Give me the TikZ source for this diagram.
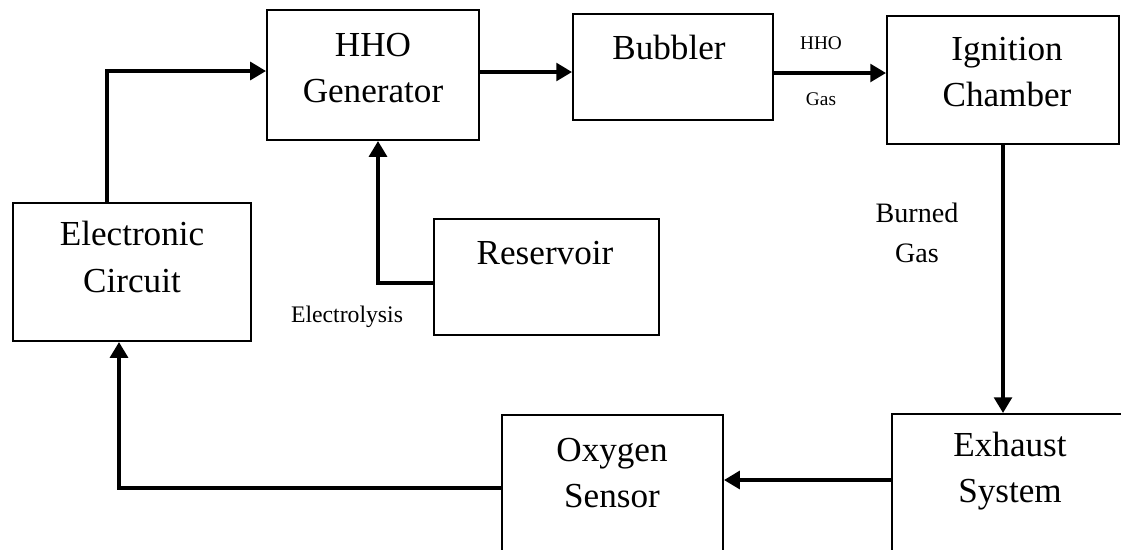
\documentclass[tikz,border=0pt]{standalone}
\usepackage{fontspec}
\setmainfont{Liberation Serif}
\usetikzlibrary{arrows.meta, calc}

\tikzset{
  blk/.style={draw, line width=1.1pt, inner sep=0pt},
  lbl/.style={align=center, font=\fontsize{20}{26.5}\selectfont},
  flow/.style={line width=2.4pt, -{Triangle[length=9pt,width=10pt]}},
}

\begin{document}
\begin{tikzpicture}[x=0.02cm, y=-0.02cm]
  \useasboundingbox (0,0) rectangle (1121,549);
  \clip (0,0) rectangle (1121,549);
  % Blocks
  \node[blk, minimum width=4.24cm, minimum height=2.6cm] (hho) at (373,75) {};
  \node[blk, minimum width=4cm, minimum height=2.12cm] (bub) at (673,67) {};
  \node[blk, minimum width=4.64cm, minimum height=2.56cm] (ign) at (1003,80) {};
  \node[blk, minimum width=4.76cm, minimum height=2.76cm] (elc) at (132,272) {};
  \node[blk, minimum width=4.5cm, minimum height=2.32cm] (res) at (546.5,277) {};
  \node[blk, minimum width=4.42cm, minimum height=3.36cm] (oxy) at (612.5,499) {};
  \node[blk, minimum width=4.72cm, minimum height=3.4cm] (exh) at (1010,499) {};
  % Block texts
  \node[lbl] (hho-t) at (373,68) {HHO\\Generator};
  \node[lbl] (bub-t) at (669,47) {Bubbler};
  \node[lbl] (ign-t) at (1007,72) {Ignition\\Chamber};
  \node[lbl] (elc-t) at (132,257) {Electronic\\Circuit};
  \node[lbl] (res-t) at (545,253) {Reservoir};
  \node[lbl] (oxy-t) at (612,473) {Oxygen\\Sensor};
  \node[lbl] (exh-t) at (1010,471) {Exhaust\\System};
  % Connectors
  \draw[flow] ($(elc.north)+(-25,0)$) |- ($(hho.west)+(0,-4)$);
  \draw[flow] ($(hho.east)+(0,-3)$) -- ($(bub.west)+(0,5)$);
  \draw[flow] ($(bub.east)+(0,6)$) -- ($(ign.west)+(0,-7)$);
  \draw[flow] (ign.south) -- (ign.south |- exh.north);
  \draw[flow] ($(exh.west)+(0,-19)$) -- ($(oxy.east)+(0,-19)$);
  \draw[flow] ($(oxy.west)+(0,-11)$) -| ($(elc.south)+(-13,0)$);
  \draw[flow] ($(res.west)+(0,6)$) -| ($(hho.south)+(5,0)$);
  % Connector labels
  \node[font=\fontsize{11}{13}\selectfont] (gas-a) at (821,43) {HHO};
  \node[font=\fontsize{11}{13}\selectfont] (gas-b) at (821,99) {Gas};
  \node[align=center, font=\fontsize{16}{22.8}\selectfont] (burn) at (917,233) {Burned\\Gas};
  \node[font=\fontsize{13.5}{16}\selectfont] (elys) at (347,317) {Electrolysis};
\end{tikzpicture}
\end{document}
